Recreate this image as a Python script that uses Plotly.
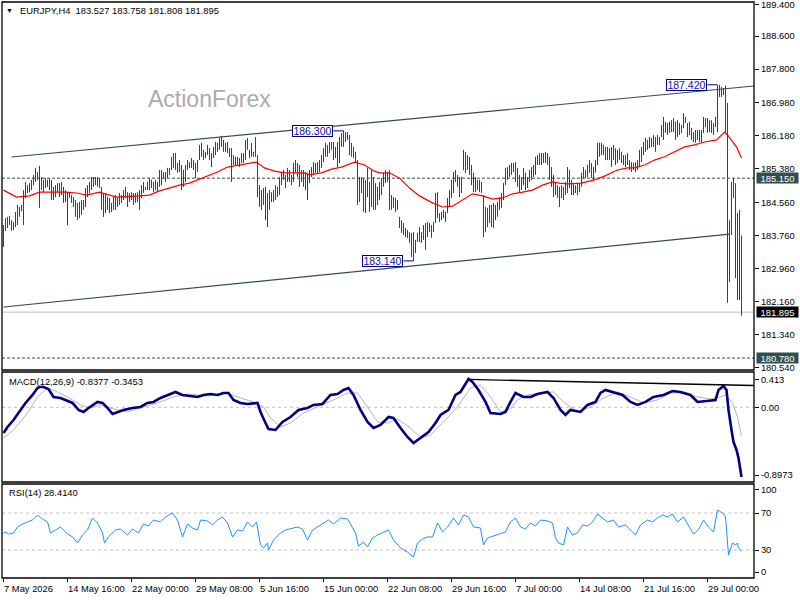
import plotly.graph_objects as go

# ---------------- price bars (H4), high / low per bar ----------------
highs = [
184.01,184.18,184.21,184.23,184.13,184.09,184.33,184.50,184.45,184.50,
184.86,185.06,184.98,185.03,185.11,185.23,185.40,185.30,185.45,185.18,
185.11,185.15,185.11,185.15,185.11,184.94,184.98,185.03,185.03,185.06,
184.94,184.86,184.81,184.81,184.74,184.69,184.62,184.55,184.57,184.62,
184.62,184.91,184.98,185.06,185.18,185.18,185.18,185.18,185.15,184.94,
184.79,184.79,184.69,184.67,184.55,184.69,184.74,184.69,184.79,184.74,
184.86,184.94,184.81,184.79,184.81,184.79,184.79,184.81,184.86,184.98,
185.06,184.94,185.06,185.15,185.11,185.06,185.11,185.06,185.35,185.35,
185.30,185.30,185.40,185.40,185.67,185.76,185.76,185.52,185.59,185.47,
185.35,185.47,185.59,185.54,
185.64,185.59,185.52,185.59,185.96,186.01,
185.84,185.79,185.96,185.88,185.76,185.91,186.03,186.01,186.13,186.18,
186.08,186.01,186.03,185.88,185.88,185.71,185.67,185.67,185.64,185.76,
185.76,186.08,186.13,185.84,186.01,185.79,186.15,185.71,184.98,184.86,
184.91,184.94,184.79,184.86,184.81,184.86,184.98,184.94,185.18,185.30,
185.35,185.23,185.40,185.35,185.23,185.52,185.59,185.52,185.47,185.35,
185.35,185.30,185.28,185.35,185.42,185.54,185.52,185.54,185.59,185.71,
185.88,186.01,185.96,186.03,186.03,186.03,185.91,186.03,186.15,186.25,
186.30,186.27,186.27,186.20,186.01,185.91,185.79,185.59,185.18,185.18,
185.15,185.11,185.40,185.06,185.35,185.18,
185.03,184.94,185.06,185.15,185.28,185.35,185.30,185.35,184.74,184.69,
184.67,184.62,184.21,184.13,184.06,183.94,183.89,183.84,183.82,183.84,
183.65,183.82,183.96,183.84,184.01,184.06,184.09,184.06,184.01,184.09,
184.79,184.81,184.30,184.33,184.38,184.33,184.67,184.86,185.11,185.30,
185.35,185.23,185.18,185.18,185.84,185.79,185.71,185.67,185.47,185.28,
185.18,185.11,185.11,185.06,184.74,184.45,184.43,184.50,184.50,184.55,
184.50,184.57,184.69,184.79,185.03,185.40,185.42,185.47,185.52,185.52,
185.54,185.40,185.23,185.18,185.40,185.28,185.18,185.35,185.42,185.47,
185.67,185.71,185.76,185.76,185.76,185.79,185.76,185.67,185.42,185.23,
185.06,184.98,184.94,
184.98,184.94,185.06,185.42,185.35,185.11,185.03,184.98,185.03,185.03,
185.28,185.42,185.35,185.47,185.59,185.52,185.42,185.59,186.01,186.01,
186.01,185.96,185.91,185.91,185.88,185.91,185.96,185.88,185.84,185.88,
185.79,185.71,185.71,185.76,185.59,185.54,185.52,185.54,185.59,185.84,
185.91,186.03,186.13,186.08,186.15,186.13,186.20,186.15,186.20,186.15,
186.44,186.64,186.52,186.49,186.52,186.56,186.61,186.52,186.56,186.49,
186.44,186.73,186.64,186.49,186.52,186.37,186.27,186.32,186.32,186.32,
186.32,186.64,186.61,186.61,186.56,186.56,186.49,186.64,187.41,187.42,
187.37,187.34,187.40,186.98,184.13,185.06,185.15,185.03,184.30,184.38,
183.758]

lows = [
183.48,183.87,183.94,184.01,183.87,183.89,183.96,184.01,184.21,184.35,
184.01,184.67,184.79,184.81,184.86,184.98,185.06,185.11,184.43,184.86,
184.81,184.91,184.94,184.86,184.62,184.62,184.69,184.81,184.69,184.74,
184.55,184.57,184.01,184.67,184.55,184.45,184.21,184.13,184.18,184.26,
184.38,184.45,184.69,184.79,184.86,184.94,184.98,184.94,184.91,184.38,
184.21,184.30,184.38,184.30,184.33,184.38,184.38,184.45,184.50,184.55,
184.62,184.67,184.45,184.57,184.62,184.50,184.55,184.57,184.38,184.67,
184.79,184.86,184.86,184.86,184.91,184.81,184.86,184.81,184.94,184.98,
185.15,185.06,185.15,185.23,185.35,185.40,185.35,185.28,185.30,184.86,
184.94,185.06,185.35,185.40,
185.40,185.35,185.15,185.30,185.59,185.67,
185.59,185.64,185.71,185.59,185.42,185.64,185.71,185.79,185.84,185.91,
185.79,185.79,185.76,185.67,185.06,185.47,185.47,185.47,185.42,185.52,
185.52,185.59,185.84,185.64,185.67,185.67,185.67,184.69,184.45,184.38,
184.50,184.13,183.96,184.38,184.57,184.57,184.62,184.69,184.74,184.98,
185.11,184.91,185.06,185.06,184.98,185.06,185.28,185.18,184.94,185.06,
184.94,184.86,184.62,185.03,185.18,185.23,185.28,185.28,185.30,185.40,
185.54,185.67,185.67,185.76,185.84,185.59,185.64,185.42,185.52,185.91,
185.91,186.03,186.08,185.71,185.67,185.64,185.52,184.50,184.57,184.79,
184.33,184.30,184.69,184.33,184.45,184.38,
184.38,184.50,184.62,184.74,184.94,185.03,185.06,184.38,184.38,184.43,
184.33,184.38,183.94,183.82,183.77,183.72,183.70,183.58,183.23,183.14,
183.33,183.60,183.60,183.58,183.65,183.41,183.72,183.84,183.70,183.84,
184.06,184.18,184.09,184.13,184.18,184.09,184.30,184.45,184.67,184.79,
185.06,184.94,184.69,184.79,185.35,185.28,185.35,185.23,184.98,184.81,
184.81,184.86,184.81,184.79,183.72,183.84,183.96,184.06,183.96,183.94,
184.13,184.21,184.38,184.43,184.62,184.98,185.11,185.18,185.23,185.30,
185.06,184.94,184.81,184.86,184.98,184.86,184.91,185.06,185.11,185.18,
185.23,185.47,185.47,185.47,185.52,185.52,185.47,185.11,184.94,184.69,
184.74,184.67,184.45,
184.67,184.62,184.74,184.79,184.91,184.74,184.74,184.79,184.74,184.81,
184.94,185.15,185.15,185.18,185.28,185.15,185.11,185.28,185.47,185.67,
185.71,185.71,185.59,185.59,185.59,185.42,185.59,185.47,185.52,185.59,
185.52,185.47,185.42,185.47,185.35,185.30,185.35,185.30,185.35,185.42,
185.54,185.71,185.79,185.84,185.88,185.91,185.91,185.79,185.96,185.96,
186.15,186.08,186.25,186.20,186.25,186.27,186.27,186.08,186.15,186.20,
186.25,186.37,186.49,186.15,186.20,186.08,186.03,186.01,186.08,186.03,
186.01,186.25,186.39,186.25,186.27,186.25,186.20,186.39,186.27,187.12,
187.12,187.17,186.25,182.12,182.63,183.77,184.67,182.72,182.19,182.19,
181.808]

# moving average (red), sampled along the bars
ma_x = [0,6.5,13,18,31.5,36.5,41.5,48,53,56.5,68,73,78,83,88,93,97,107,112,119,
        126.5,130.5,135.5,140.5,150.5,153,159,164,169,175.5,180.5,185.5,188,193,198,203,208,214.5,219.5,224.5,
        231.5,234.5,239.5,244.5,249.5,254.5,259.5,264.5,269.5,274.5,278,282,289,295.5,300.5,307,312,315.5,320.5,325.5,
        330.5,335.5,340.5,345.5,350.5,356.5,360.5,362,366.5,369]
ma_y = [184.86,184.69,184.72,184.81,184.81,184.79,184.74,184.81,184.74,184.69,184.72,184.74,184.84,184.91,184.98,185.03,185.11,185.30,185.42,185.47,
        185.54,185.40,185.32,185.28,185.28,185.23,185.28,185.37,185.42,185.54,185.47,185.32,185.28,185.28,185.15,184.91,184.72,184.55,184.45,184.47,
        184.69,184.77,184.72,184.64,184.67,184.77,184.81,184.86,184.98,185.06,185.03,185.01,185.03,185.11,185.20,185.35,185.40,185.40,185.47,185.59,
        185.67,185.79,185.91,185.96,186.03,186.08,186.27,186.20,185.91,185.64]

# MACD(12,26,9) main and signal
macd_x = [0,2,5,8.5,11,14.5,17,18,20,22.5,25,28.5,31,34.5,37.5,40,42.5,47,49.5,52,
          54.5,57,60,64.5,68.5,72,75,78.5,82,86,89.5,93.5,97,100,103.5,107,110,112.5,115,118.5,
          122,127,128.5,131,132.5,136,139.5,143.5,147.5,152,155,159.5,163.5,167,170,172.5,175,178.5,182,185,
          188.5,192.5,195,198.5,202,205,208.5,212.5,216,218.5,222.5,226,228.5,231,232.5,234.5,237.5,241,243.5,248.5,
          251,253.5,256,260,263.5,267,272,275,278.5,281,283.5,288.5,292,296,298.5,301,305,309.5,313.5,317,
          321,325,330,334.5,338.5,343.5,347,351,356,357.5,360,361.5,362.5,364,365,366.5,367.5,369]
macd_v = [-0.309,-0.237,-0.153,-0.032,0.052,0.148,0.232,0.244,0.244,0.220,0.124,0.112,0.088,0.052,-0.032,-0.056,-0.008,0.064,0.052,-0.008,
          -0.081,-0.056,-0.032,-0.008,0.004,0.052,0.064,0.112,0.148,0.184,0.148,0.136,0.124,0.148,0.160,0.148,0.172,0.172,0.088,0.052,
          0.040,0.052,-0.056,-0.189,-0.261,-0.273,-0.177,-0.117,-0.032,-0.008,0.028,0.040,0.148,0.160,0.208,0.232,0.148,-0.032,-0.177,-0.249,
          -0.213,-0.117,-0.129,-0.249,-0.357,-0.429,-0.369,-0.297,-0.189,-0.093,-0.032,0.148,0.184,0.292,0.340,0.304,0.208,0.064,-0.069,-0.081,
          -0.056,0.064,0.172,0.124,0.124,0.160,0.184,0.112,-0.032,-0.093,-0.032,-0.056,0.028,0.064,0.172,0.208,0.184,0.148,0.064,0.028,
          0.064,0.124,0.148,0.196,0.184,0.148,0.064,0.076,0.088,0.208,0.256,0.208,-0.032,-0.273,-0.417,-0.513,-0.609,-0.8377]
sig_x = [0,5,12,17,22,27,32,38.5,43.5,48.5,55,62,68.5,77,85,92,102,112,118.5,125,
         130,133.5,138.5,143.5,150,158.5,165,172,177,182,187,192,197,203.5,208.5,213.5,220,227,233.5,238.5,
         243.5,248.5,253.5,257,262,268.5,275,280,287,293.5,300,307,313.5,320,327,333.5,340,347,353.5,358.5,
         361,364.5,367,369]
sig_v = [-0.369,-0.273,-0.069,0.124,0.232,0.184,0.124,0.028,-0.008,0.028,-0.020,-0.056,-0.008,0.052,0.124,0.160,0.136,0.172,0.112,0.064,
         0.004,-0.129,-0.237,-0.189,-0.069,0.016,0.088,0.172,0.172,0.004,-0.177,-0.189,-0.141,-0.249,-0.369,-0.333,-0.177,0.004,0.232,0.268,
         0.124,-0.056,-0.020,0.088,0.148,0.172,0.184,0.064,-0.056,0.004,0.112,0.184,0.124,0.052,0.088,0.172,0.172,0.124,0.100,0.124,
         0.148,0.052,-0.117,-0.3453]

# RSI(14)
rsi_x = [0,1,2.5,5,7,9.5,12,14.5,17,19.5,22,23.5,26,28.5,32,34.5,37,39.5,42,44.5,
         47,49.5,50.5,52.5,56,58.5,62,64.5,67.5,70,72.5,75,78.5,81,84.5,87,89.5,92,94.5,97,
         98.5,102,104.5,107,109.5,112,114.5,117,119.5,122,124.5,126.5,128.5,130,132,132.5,135,138.5,141,143.5,
         147,149.5,152,154.5,157,160,162.5,165,168.5,172,174.5,176,177.5,180,182,184.5,187,190,192.5,195,
         198.5,202,205,207,209.5,212,214.5,217,219.5,222,225,227.5,230,232.5,235,238.5,240,242,245,248.5,
         251,253.5,256,258.5,261,263.5,266,268.5,272,274.5,276,277.5,280,282,284.5,287,289.5,292,294.5,297,
         299.5,302,305,307.5,311,313.5,316,318.5,322,324.5,327,329.5,332,334.5,337,340,342.5,345,347.5,350,
         352.5,355,357,359.5,361,362.5,364.5,366,367,367.5,369]
rsi_v = [48.4,49.5,47.3,48.4,54.9,58.1,60.3,62.4,67.8,63.5,60.3,48.4,51.6,54.9,47.3,44.1,37.6,46.2,51.6,64.6,
         59.2,48.4,37.6,44.1,51.6,52.7,46.2,52.7,48.4,58.1,55.9,62.4,60.3,65.7,70.0,62.4,44.1,58.1,53.8,51.6,
         62.4,61.4,57.0,62.4,65.7,59.2,44.1,51.6,50.5,60.3,54.9,60.3,35.4,32.2,37.6,30.0,40.8,48.4,51.6,52.7,
         54.9,52.7,40.8,51.6,54.9,59.2,62.4,58.1,64.6,63.5,54.9,48.4,34.3,38.6,33.2,43.0,46.2,49.5,51.6,40.8,
         32.2,27.8,22.4,37.6,41.9,44.1,44.1,59.2,49.5,54.9,64.6,57.0,67.8,65.7,54.9,53.8,35.4,43.0,45.1,48.4,
         49.5,60.3,64.6,54.9,52.7,59.2,55.9,62.4,61.4,59.2,43.0,37.6,35.4,54.9,46.2,48.4,57.0,55.9,60.3,68.9,
         64.6,60.3,62.4,54.9,57.0,51.6,46.2,57.0,62.4,60.3,64.6,67.8,65.7,68.9,60.3,65.7,57.0,47.3,51.6,62.4,
         54.9,49.5,73.2,70.0,65.7,24.6,37.6,35.4,37.6,32.2,28.414]

# axis labels
date_labels = ["7 May 2026","14 May 16:00","22 May 00:00","29 May 08:00","5 Jun 16:00","15 Jun 00:00",
               "22 Jun 08:00","29 Jun 16:00","7 Jul 00:00","14 Jul 08:00","21 Jul 16:00","29 Jul 00:00"]
date_bars = [0,32,64,96,128,160,192,224,256,288,320,352]
price_ticks = [189.400,188.600,187.800,186.980,186.180,185.380,184.560,183.760,182.960,182.160,181.340,180.540]
macd_tick_vals = [0.328,0.0,-0.814]
macd_tick_text = ["0.413","0.00","-0.8973"]
rsi_tick_vals = [94.9,70,30,6.2]
rsi_tick_text = ["100","70","30","0"]

# drawn objects
upper_ch_x = [4, 375.25]
upper_ch_y = [185.665, 187.39]
lower_ch_x = [0, 363]
lower_ch_y = [182.02, 183.79]
macd_tl_x = [232.5, 375.25]
macd_tl_y = [0.335, 0.262]
hlines_dash = [185.150, 180.780]
bid_price = 181.895
swing_text = ["186.300", "187.420", "183.140"]
swing_price = [186.30, 187.42, 183.14]
swing_box_bar = [154.5, 341.5, 189.5]
swing_conn = [(165, 170), (352, 357), (200, 205)]

FONT = "Liberation Sans, Arial, sans-serif"
BAR_C = "#1d4a66"

fig = go.Figure()

n = min(len(highs), len(lows))
bx, by = [], []
for i in range(n):
    bx += [i, i, None]
    by += [lows[i], highs[i], None]
fig.add_trace(go.Scatter(x=bx, y=by, mode="lines", line=dict(color=BAR_C, width=1),
                         xaxis="x", yaxis="y", hoverinfo="skip"))
fig.add_trace(go.Scatter(x=ma_x, y=ma_y, mode="lines", line=dict(color="#ff0000", width=1.2),
                         xaxis="x", yaxis="y", hoverinfo="skip"))
fig.add_trace(go.Scatter(x=upper_ch_x, y=upper_ch_y, mode="lines", line=dict(color="#2f4f4f", width=1.2),
                         xaxis="x", yaxis="y", hoverinfo="skip"))
fig.add_trace(go.Scatter(x=lower_ch_x, y=lower_ch_y, mode="lines", line=dict(color="#2f4f4f", width=1.2),
                         xaxis="x", yaxis="y", hoverinfo="skip"))
fig.add_trace(go.Scatter(x=sig_x, y=sig_v, mode="lines", line=dict(color="#b4b4b4", width=1),
                         xaxis="x", yaxis="y2", hoverinfo="skip"))
fig.add_trace(go.Scatter(x=macd_x, y=macd_v, mode="lines", line=dict(color="#000080", width=2.6),
                         xaxis="x", yaxis="y2", hoverinfo="skip"))
fig.add_trace(go.Scatter(x=macd_tl_x, y=macd_tl_y, mode="lines", line=dict(color="#000000", width=1.3),
                         xaxis="x", yaxis="y2", hoverinfo="skip"))
fig.add_trace(go.Scatter(x=rsi_x, y=rsi_v, mode="lines", line=dict(color="#1e90ff", width=1),
                         xaxis="x", yaxis="y3", hoverinfo="skip"))

shapes = []
for lv in hlines_dash:
    shapes.append(dict(type="line", xref="paper", x0=0, x1=1, yref="y", y0=lv, y1=lv,
                       line=dict(color="#2f4f4f", width=1, dash="3px,2px"), layer="below"))
shapes.append(dict(type="line", xref="paper", x0=0, x1=1, yref="y", y0=bid_price, y1=bid_price,
                   line=dict(color="#c0c0c0", width=1), layer="below"))
shapes.append(dict(type="line", xref="paper", x0=0, x1=1, yref="y2", y0=0, y1=0,
                   line=dict(color="#c0c0c0", width=1, dash="3px,3px"), layer="below"))
for lv in (70, 30):
    shapes.append(dict(type="line", xref="paper", x0=0, x1=1, yref="y3", y0=lv, y1=lv,
                       line=dict(color="#c0c0c0", width=1, dash="3px,3px"), layer="below"))
for (a, b), p in zip(swing_conn, swing_price):
    shapes.append(dict(type="line", xref="x", x0=a, x1=b, yref="y", y0=p, y1=p,
                       line=dict(color="#000080", width=1)))

dom_main = [0.3611, 1.0]
dom_macd = [0.16667, 0.35764]
dom_rsi = [0.0, 0.16319]
for d in (dom_main, dom_macd, dom_rsi):
    shapes.append(dict(type="rect", xref="paper", yref="paper", x0=0, x1=1, y0=d[0], y1=d[1],
                       line=dict(color="#000000", width=1.3), fillcolor="rgba(0,0,0,0)"))

ann = []
ann.append(dict(xref="paper", yref="paper", x=0.0099, y=0.9852, text="▼", showarrow=False,
                font=dict(family=FONT, size=7, color="#000000"), xanchor="center", yanchor="middle"))
ann.append(dict(xref="paper", yref="paper", x=0.0213, y=0.9852,
                text="EURJPY,H4  183.527 183.758 181.808 181.895", showarrow=False,
                font=dict(family=FONT, size=9.4, color="#000000"), xanchor="left", yanchor="middle"))
ann.append(dict(xref="paper", yref="paper", x=0.2759, y=0.8316, text="ActionForex", showarrow=False,
                font=dict(family=FONT, size=23, color="#ababab"), xanchor="center", yanchor="middle"))
ann.append(dict(xref="paper", yref="paper", x=0.0066, y=0.3411, text="MACD(12,26,9) -0.8377 -0.3453",
                showarrow=False, font=dict(family=FONT, size=9.4, color="#000000"),
                xanchor="left", yanchor="middle"))
ann.append(dict(xref="paper", yref="paper", x=0.0066, y=0.1484, text="RSI(14) 28.4140",
                showarrow=False, font=dict(family=FONT, size=9.4, color="#000000"),
                xanchor="left", yanchor="middle"))
for lbl, b in zip(date_labels, date_bars):
    ann.append(dict(xref="x", yref="paper", x=b, y=-0.0174, text=lbl, showarrow=False,
                    font=dict(family=FONT, size=9.4, color="#000000"), xanchor="left", yanchor="middle",
                    xshift=-2))
for t, p, b in zip(swing_text, swing_price, swing_box_bar):
    ann.append(dict(xref="x", yref="y", x=b, y=p, text=t, showarrow=False,
                    font=dict(family=FONT, size=10.5, color="#1010b0"), bgcolor="#ffffff",
                    bordercolor="#000080", borderwidth=1, borderpad=0, width=39, height=10,
                    xanchor="center", yanchor="middle"))
for txt, p, bg in (("185.150", 185.150, "#2f4f4f"), ("181.895", 181.895, "#000000"),
                   ("180.780", 180.780, "#2f4f4f")):
    ann.append(dict(xref="paper", yref="y", x=1, y=p, text=txt, showarrow=False, xanchor="left",
                    yanchor="middle", xshift=2, bgcolor=bg, borderpad=1, width=39, height=8,
                    font=dict(family=FONT, size=9.4, color="#ffffff")))

axis_font = dict(family=FONT, size=9.4, color="#000000")
price_tick_pos = [189.37] + price_ticks[1:]
fig.update_layout(
    width=800, height=600,
    margin=dict(l=2, r=46, t=2, b=22, autoexpand=False),
    paper_bgcolor="#ffffff", plot_bgcolor="#ffffff",
    showlegend=False, hovermode=False,
    xaxis=dict(domain=[0, 1], range=[-0.75, 375.25], anchor="y3", showgrid=False, zeroline=False,
               tickmode="array", tickvals=date_bars, ticktext=[""] * len(date_bars),
               ticks="outside", ticklen=3, tickcolor="#000000", showline=False, fixedrange=True,
               automargin=False),
    yaxis=dict(domain=dom_main, range=[180.489, 189.431], side="right", anchor="x", showgrid=False,
               zeroline=False, tickmode="array", tickvals=price_tick_pos,
               ticktext=["%.3f" % v for v in price_ticks], ticks="outside", ticklen=4,
               tickcolor="#000000", tickfont=axis_font, showline=False, ticklabeloverflow="allow",
               automargin=False),
    yaxis2=dict(domain=dom_macd, range=[-0.898, 0.424], side="right", anchor="x", showgrid=False,
                zeroline=False, tickmode="array", tickvals=macd_tick_vals, ticktext=macd_tick_text,
                ticks="outside", ticklen=4, tickcolor="#000000", tickfont=axis_font, showline=False,
                automargin=False),
    yaxis3=dict(domain=dom_rsi, range=[-0.27, 101.35], side="right", anchor="x", showgrid=False,
                zeroline=False, tickmode="array", tickvals=rsi_tick_vals, ticktext=rsi_tick_text,
                ticks="outside", ticklen=4, tickcolor="#000000", tickfont=axis_font, showline=False,
                automargin=False),
    shapes=shapes, annotations=ann,
)

fig.write_html("out.html", config={"displayModeBar": False},
               post_script="document.body.style.margin='0';document.body.style.overflow='hidden';")
